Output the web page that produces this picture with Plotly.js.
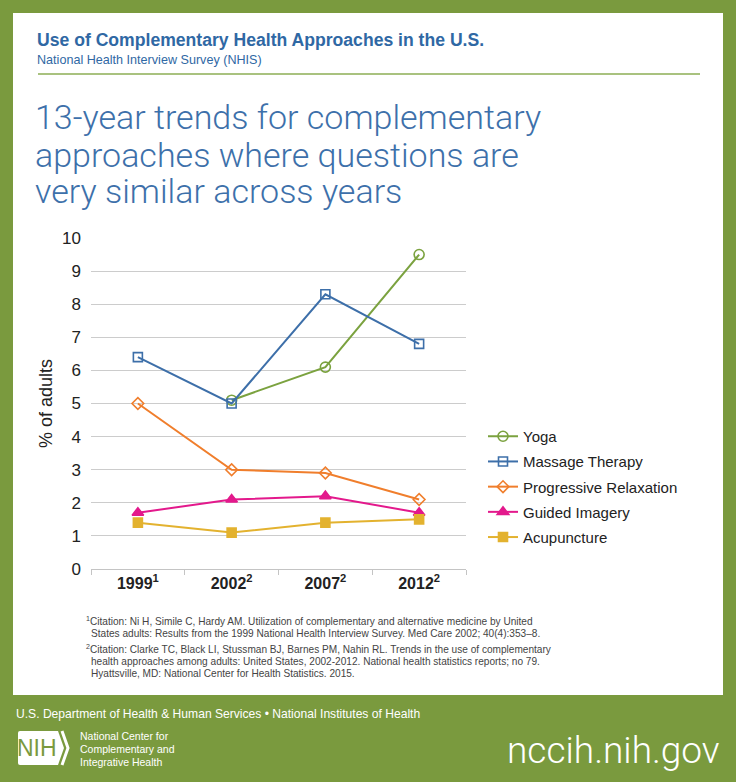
<!DOCTYPE html>
<html>
<head>
<meta charset="utf-8">
<script src="https://cdn.plot.ly/plotly-3.0.1.min.js"></script>
<style>html,body{margin:0;padding:0;background:#7a9a3e;}#chart{width:736px;height:782px;}</style>
</head>
<body>
<div id="chart"></div>
<script>
// ---- data ----
const years = ["1999", "2002", "2007", "2012"];
const yearLabels = ["1999<sup>1</sup>", "2002<sup>2</sup>", "2007<sup>2</sup>", "2012<sup>2</sup>"];
const seriesNames = ["Yoga", "Massage Therapy", "Progressive Relaxation", "Guided Imagery", "Acupuncture"];
const yoga = [null, 5.1, 6.1, 9.5];
const massage = [6.4, 5.0, 8.3, 6.8];
const progressive = [5.0, 3.0, 2.9, 2.1];
const guided = [1.7, 2.1, 2.2, 1.7];
const acupuncture = [1.4, 1.1, 1.4, 1.5];
const yTicks = [0, 1, 2, 3, 4, 5, 6, 7, 8, 9, 10];

// ---- layout helpers (pixel -> paper) ----
const W = 736, H = 782;
const L = 91, R = 466, T = 238, B = 569;
const px = x => (x - L) / (R - L);
const py = y => (B - y) / (B - T);

const FONT = "Liberation Sans, Arial, sans-serif";
const LIGHT = "Roboto, Lato, sans-serif";

const colors = ["#7ba23f", "#3d6fa9", "#f07e2c", "#e3198c", "#e3b22f"];
const symbols = ["circle-open", "square-open", "diamond-open", "triangle-up", "square"];
const sizes = [10, 9, 9, 10, 9];
const values = [yoga, massage, progressive, guided, acupuncture];

const traces = values.map((v, i) => ({
  type: "scatter",
  mode: "lines+markers",
  name: seriesNames[i],
  legendgroup: "g" + i,
  x: years,
  y: v,
  line: {color: colors[i], width: 2},
  marker: {symbol: symbols[i], size: sizes[i], color: colors[i], line: {color: colors[i], width: 1.6}},
  hoverinfo: "skip"
}));

function txt(text, x, y, opts) {
  return Object.assign({
    text: text, xref: "paper", yref: "paper", x: px(x), y: py(y),
    xanchor: "left", yanchor: "middle", showarrow: false, align: "left",
    font: {family: FONT, size: 12, color: "#222"}
  }, opts || {});
}

const annotations = [
  txt("Use of Complementary Health Approaches in the U.S.", 35, 40, {font: {family: FONT, size: 17.6, color: "#2f68a4", weight: 700}}),
  txt("National Health Interview Survey (NHIS)", 35, 60, {font: {family: FONT, size: 12.6, color: "#2f68a4"}}),
  txt("13-year trends for complementary", 33, 117, {font: {family: LIGHT, size: 34, color: "#3d70aa", weight: 300}}),
  txt("approaches where questions are", 33, 155, {font: {family: LIGHT, size: 34, color: "#3d70aa", weight: 300}}),
  txt("very similar across years", 33, 191, {font: {family: LIGHT, size: 34, color: "#3d70aa", weight: 300}}),
  txt("<sup>1</sup>Citation: Ni H, Simile C, Hardy AM. Utilization of complementary and alternative medicine by United", 84, 621, {font: {family: FONT, size: 10.1, color: "#444"}}),
  txt("States adults: Results from the 1999 National Health Interview Survey. Med Care 2002; 40(4):353–8.", 89, 633, {font: {family: FONT, size: 10.1, color: "#444"}}),
  txt("<sup>2</sup>Citation: Clarke TC, Black LI, Stussman BJ, Barnes PM, Nahin RL. Trends in the use of complementary", 84, 649, {font: {family: FONT, size: 10.1, color: "#444"}}),
  txt("health approaches among adults: United States, 2002-2012. National health statistics reports; no 79.", 89, 661, {font: {family: FONT, size: 10.1, color: "#444"}}),
  txt("Hyattsville, MD: National Center for Health Statistics. 2015.", 89, 673, {font: {family: FONT, size: 10.1, color: "#444"}}),
  txt("U.S. Department of Health &amp; Human Services • National Institutes of Health", 14, 714, {font: {family: FONT, size: 12.1, color: "#ffffff"}}),
  txt("NIH", 37, 748, {xanchor: "center", font: {family: FONT, size: 23, color: "#7a9a3e"}}),
  txt("National Center for", 78, 736, {font: {family: FONT, size: 10.5, color: "#ffffff"}}),
  txt("Complementary and", 78, 749, {font: {family: FONT, size: 10.5, color: "#ffffff"}}),
  txt("Integrative Health", 78, 762, {font: {family: FONT, size: 10.5, color: "#ffffff"}}),
  txt("nccih.nih.gov", 722, 750, {xanchor: "right", font: {family: LIGHT, size: 37, color: "#ffffff", weight: 300}})
];

const shapes = [
  {type: "rect", xref: "paper", yref: "paper", layer: "below", x0: px(13), x1: px(723), y0: py(13), y1: py(695), fillcolor: "#ffffff", line: {width: 0}},
  {type: "line", xref: "paper", yref: "paper", x0: px(38), x1: px(700), y0: py(74), y1: py(74), line: {color: "#a9c27f", width: 2}},
  {type: "path", xref: "paper", yref: "paper",
    path: `M ${px(18)} ${py(733)} Q ${px(18)} ${py(731)} ${px(20)} ${py(731)} L ${px(58)} ${py(731)} L ${px(64)} ${py(748)} L ${px(58)} ${py(765)} L ${px(20)} ${py(765)} Q ${px(18)} ${py(765)} ${px(18)} ${py(763)} Z`,
    fillcolor: "#ffffff", line: {width: 0}},
  {type: "path", xref: "paper", yref: "paper",
    path: `M ${px(62)} ${py(731)} L ${px(68)} ${py(748)} L ${px(62)} ${py(765)}`,
    line: {color: "#ffffff", width: 3}}
];

const layout = {
  width: W, height: H,
  margin: {l: L, r: W - R, t: T, b: H - B, pad: 0},
  paper_bgcolor: "#7a9a3e",
  plot_bgcolor: "#ffffff",
  showlegend: true,
  legend: {
    x: px(483), y: py(420), xanchor: "left", yanchor: "top",
    bgcolor: "rgba(0,0,0,0)", font: {family: FONT, size: 15, color: "#222"},
    itemwidth: 30, tracegroupgap: 2.7
  },
  xaxis: {
    type: "category", tickmode: "array", tickvals: years, ticktext: yearLabels,
    range: [-0.5, 3.5], tickson: "boundaries",
    showgrid: false, zeroline: false, showline: true, linecolor: "#c4c4c4", linewidth: 1,
    ticks: "outside", ticklen: 5, tickcolor: "#c4c4c4",
    tickfont: {family: FONT, size: 16, color: "#222", weight: 700},
    fixedrange: true
  },
  yaxis: {
    range: [0, 10], tickmode: "array", tickvals: yTicks,
    showgrid: true, gridcolor: "#cccccc", gridwidth: 1, zeroline: false, showline: false,
    ticks: "", ticklabelstandoff: 9,
    tickfont: {family: FONT, size: 17, color: "#222"},
    title: {text: "% of adults", font: {family: FONT, size: 18, color: "#222"}, standoff: 4},
    fixedrange: true
  },
  annotations: annotations,
  shapes: shapes
};

Plotly.newPlot("chart", traces, layout, {displayModeBar: false, staticPlot: true});
</script>
</body>
</html>
